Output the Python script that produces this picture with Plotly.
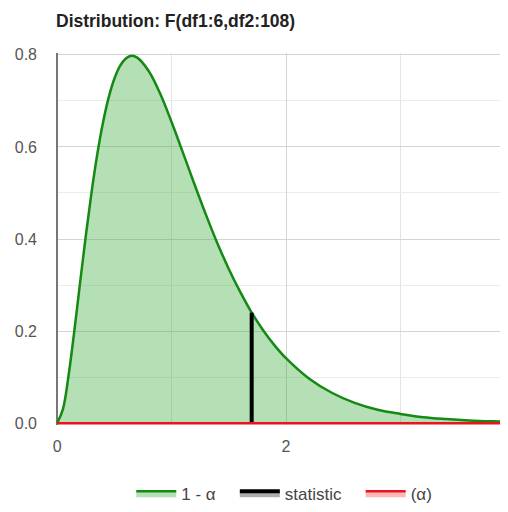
import plotly.graph_objects as go

# values
x_vals = [0.0, 0.05, 0.1, 0.15, 0.2, 0.25, 0.3, 0.35, 0.4, 0.45, 0.5, 0.55, 0.6, 0.65,
          0.7, 0.8, 0.9, 1.0, 1.1, 1.2, 1.3, 1.4, 1.5, 1.6, 1.7, 1.8, 1.9, 2.0,
          2.2, 2.4, 2.6, 2.8, 3.0, 3.2, 3.4, 3.6, 3.8, 3.94]
pdf_vals = [0.0, 0.030, 0.104, 0.200, 0.304, 0.406, 0.500, 0.583, 0.652, 0.707, 0.748,
            0.776, 0.792, 0.798, 0.794, 0.765, 0.716, 0.654, 0.587, 0.519, 0.453,
            0.391, 0.335, 0.285, 0.240, 0.202, 0.169, 0.141, 0.097, 0.066, 0.044,
            0.029, 0.020, 0.013, 0.009, 0.006, 0.004, 0.003]

stat_x = [1.7, 1.7]
stat_y = [0.0, 0.240]

alpha_x = [0.0, 3.94]
alpha_y = [0.0, 0.0]

pad = '\u00a0\u00a0\u00a0'

fig = go.Figure()

fig.add_trace(go.Scatter(
    x=x_vals, y=pdf_vals, name='1 - α' + pad, mode='lines',
    line=dict(color='#148a14', width=2.5, shape='spline'),
    fill='tozeroy', fillcolor='rgba(60, 170, 60, 0.38)'
))
fig.add_trace(go.Scatter(
    x=stat_x, y=stat_y, name='statistic' + pad, mode='lines',
    line=dict(color='black', width=4),
    fill='tozeroy', fillcolor='rgba(120, 120, 120, 0.6)'
))
fig.add_trace(go.Scatter(
    x=alpha_x, y=alpha_y, name='(α)', mode='lines',
    line=dict(color='#e8141e', width=2.5),
    fill='tozeroy', fillcolor='rgba(255, 110, 110, 0.5)'
))

# page body has an 8px margin, so the figure is 8px smaller than the window
fig.update_layout(
    width=500, height=504,
    title=dict(text='<b>Distribution: F(df1:6,df2:108)</b>', x=0, xref='paper',
               xanchor='left', yref='container', y=0.987, yanchor='top',
               font=dict(size=17.5, color='#222')),
    font=dict(family='Liberation Sans, Arial', size=16, color='#555'),
    plot_bgcolor='white', paper_bgcolor='white',
    margin=dict(l=48, r=0, t=45, b=85),
    showlegend=True,
    legend=dict(orientation='h', x=0.505, xanchor='center', y=-0.185, yanchor='middle',
                font=dict(size=17, color='#444'), itemwidth=40, traceorder='normal'),
)

fig.update_xaxes(
    range=[-0.01, 3.94], tickvals=[0, 2], ticktext=['0', '2'],
    showgrid=True, gridcolor='#d4d4d4', gridwidth=1,
    minor=dict(dtick=1, showgrid=True, gridcolor='#e4e4e4'),
    zeroline=True, zerolinecolor='#777', zerolinewidth=2,
    showline=False, ticks='', ticklabelstandoff=10, automargin=False
)
fig.update_yaxes(
    range=[-0.004, 0.804], tickvals=[0, 0.2, 0.4, 0.6, 0.8], tickformat='.1f',
    showgrid=True, gridcolor='#d4d4d4', gridwidth=1,
    minor=dict(dtick=0.1, showgrid=True, gridcolor='#ececec'),
    zeroline=False, showline=False, ticks='', ticklabelstandoff=18, automargin=False
)

fig.write_html("out.html")
